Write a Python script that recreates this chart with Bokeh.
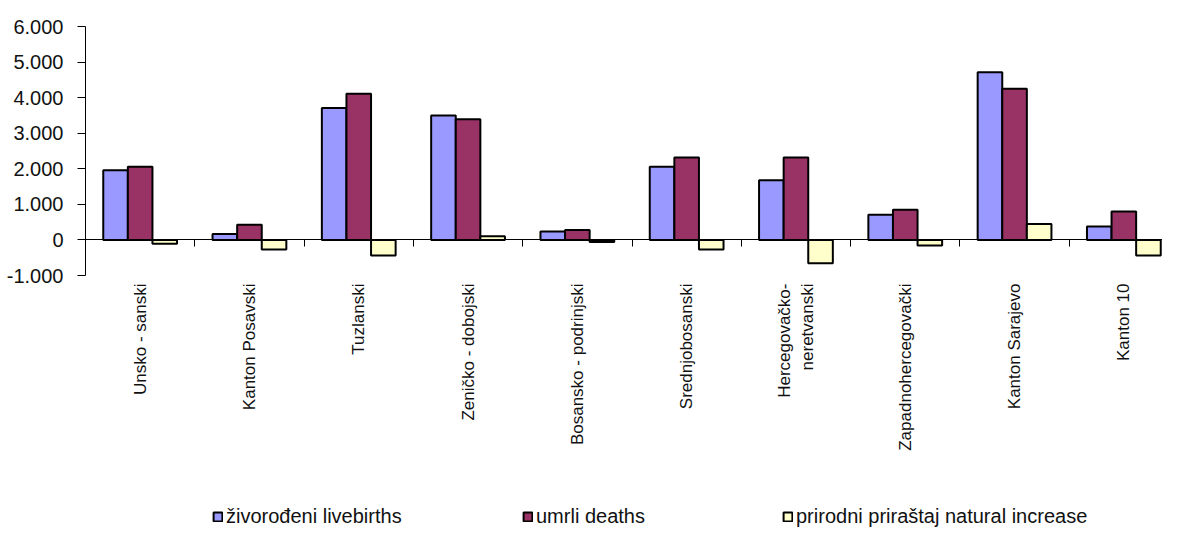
import numpy as np
from bokeh.plotting import figure
from bokeh.models import (ColumnDataSource, Range1d, FixedTicker, LinearAxis,
                          Legend, LegendItem)
from bokeh.transform import dodge
from bokeh.embed import file_html
from bokeh.resources import INLINE

categories = ["Unsko - sanski", "Kanton Posavski", "Tuzlanski", "Zeničko - dobojski",
              "Bosansko - podrinjski", "Srednjobosanski", "Hercegovačko-\nneretvanski",
              "Zapadnohercegovački", "Kanton Sarajevo", "Kanton 10"]
livebirths = [1960, 170, 3710, 3500, 235, 2060, 1680, 710, 4715, 380]
deaths = [2060, 430, 4110, 3390, 280, 2315, 2315, 850, 4250, 800]
natural = [-110, -270, -440, 100, -55, -270, -655, -160, 450, -440]
series_names = ["živorođeni livebirths", "umrli deaths", "prirodni priraštaj natural increase"]
series_colors = ["#9999FF", "#993366", "#FFFFCC"]
y_ticks = [-1000, 0, 1000, 2000, 3000, 4000, 5000, 6000]
y_tick_labels = ["-1.000", "0", "1.000", "2.000", "3.000", "4.000", "5.000", "6.000"]

n = len(categories)
centers = np.arange(n) + 0.5
source = ColumnDataSource(dict(x=centers, lb=livebirths, d=deaths, nat=natural))

FONT = "Liberation Sans"
W, H = 1162, 528
TOP, LEFT = 26, 85
AX_BOTTOM_PX = 275          # pixel row of the -1000 level
CAT_PX = 109.3              # pixel width of one category slot
ymin_axis, ymax_axis = y_ticks[0], y_ticks[-1]
px_per_unit = (AX_BOTTOM_PX - TOP) / (ymax_axis - ymin_axis)
frame_h = H - TOP
y_start = ymax_axis - frame_h / px_per_unit
x_end = (W - LEFT) / CAT_PX

p = figure(width=W, height=H, output_backend="svg", toolbar_location=None,
           x_range=Range1d(0, x_end), y_range=Range1d(y_start, ymax_axis),
           min_border_left=LEFT, min_border_right=0, min_border_top=TOP,
           min_border_bottom=0)
p.outline_line_color = None
p.grid.visible = False
p.background_fill_color = "white"

bw = 0.225
cols = ["lb", "d", "nat"]
offsets = [-bw, 0.0, bw]
renderers = []
for col, off, color in zip(cols, offsets, series_colors):
    r = p.vbar(x=dodge("x", off), top=col, bottom=0, width=bw, source=source,
               fill_color=color, line_color="black", line_width=2)
    renderers.append(r)

# y axis
ya = p.yaxis[0]
ya.ticker = FixedTicker(ticks=y_ticks)
ya.bounds = (ymin_axis, ymax_axis)
ya.major_label_overrides = {float(t): s for t, s in zip(y_ticks, y_tick_labels)}
ya.major_label_text_font = FONT
ya.major_label_text_font_size = "20px"
ya.major_label_text_color = "#111111"
ya.major_tick_out = 8
ya.major_tick_in = 0
ya.minor_tick_line_color = None
ya.axis_line_color = "black"
ya.major_tick_line_color = "black"
ya.major_label_standoff = 14

# x axis: category labels only, hung under the -1000 level
xa = p.xaxis[0]
xa.fixed_location = ymin_axis
xa.ticker = FixedTicker(ticks=list(centers))
xa.major_label_overrides = {float(c): s for c, s in zip(centers, categories)}
xa.major_label_orientation = np.pi / 2
xa.major_label_text_font = FONT
xa.major_label_text_font_size = "17px"
xa.major_label_text_color = "#111111"
xa.axis_line_color = None
xa.major_tick_line_color = None
xa.minor_tick_line_color = None
xa.major_tick_out = 0
xa.major_label_standoff = 8

# zero axis line with category boundary ticks
za = LinearAxis(fixed_location=0, ticker=FixedTicker(ticks=list(np.arange(1, n))))
za.major_label_text_alpha = 0
za.major_label_text_font_size = "1px"
za.major_tick_out = 7
za.major_tick_in = 0
za.minor_tick_line_color = None
za.axis_line_color = "black"
za.major_tick_line_color = "black"
p.add_layout(za, "below")

legend_x = [127, 437, 697]
for name, r, lx in zip(series_names, renderers, legend_x):
    leg = Legend(items=[LegendItem(label=name, renderers=[r])], location=(lx, 0),
                 orientation="horizontal", padding=0, margin=0, border_line_color=None,
                 background_fill_alpha=0, label_text_font=FONT, label_text_font_size="20px",
                 glyph_width=11, glyph_height=11, label_standoff=3, label_height=18,
                 label_text_color="#111111")
    p.add_layout(leg)

open("out.html", "w").write(file_html(p, INLINE))
